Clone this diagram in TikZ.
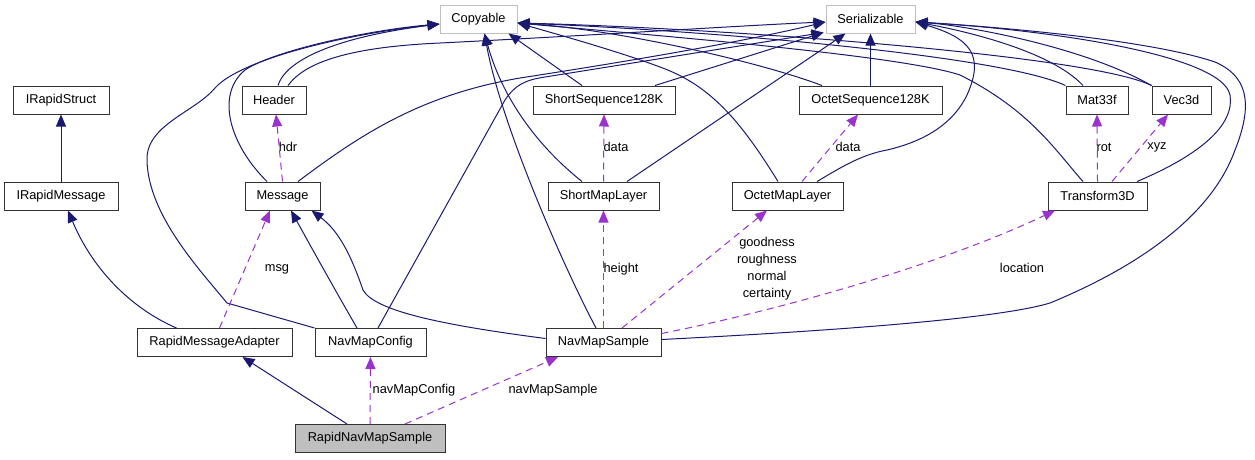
\documentclass[tikz,border=0pt]{standalone}
\usepackage{fontspec}
\setmainfont{Liberation Sans}
\usetikzlibrary{arrows.meta}
\definecolor{navy}{HTML}{191970}
\definecolor{purp}{HTML}{9A32CD}
\begin{document}
\begin{tikzpicture}[x=1pt,y=-1pt,
  box/.style={draw=black!80, line width=1pt, minimum height=28pt, inner sep=0pt,
    font=\fontsize{12.8}{15}\selectfont, fill=white},
  extbox/.style={box, draw=black!25},
  inh/.style={draw=navy, line width=1pt, -{Triangle[length=12pt,width=10pt]}},
  usedby/.style={draw=purp, line width=1pt, dash pattern=on 7pt off 5pt, -{Triangle[length=12pt,width=10pt]}},
  lbl/.style={inner sep=0pt, font=\fontsize{12.8}{17}\selectfont, align=center}]
\useasboundingbox (0,0) rectangle (1255,459);

% nodes
\node[extbox,minimum width=77pt] (copy) at (478.5,19) {Copyable};
\node[extbox,minimum width=89pt] (ser) at (870.5,19) {Serializable};
\node[box,minimum width=96pt] (irs) at (61,100) {IRapidStruct};
\node[box,minimum width=114pt] (irm) at (61,196) {IRapidMessage};
\node[box,minimum width=64pt] (hdr) at (274,100) {Header};
\node[box,minimum width=75pt] (msg) at (282.5,196) {Message};
\node[box,minimum width=142pt] (sseq) at (604,100) {ShortSequence128K};
\node[box,minimum width=111pt] (sml) at (603.5,196) {ShortMapLayer};
\node[box,minimum width=143pt] (oseq) at (870.5,100) {OctetSequence128K};
\node[box,minimum width=111pt] (oml) at (787.5,196) {OctetMapLayer};
\node[box,minimum width=62pt] (mat) at (1097,100) {Mat33f};
\node[box,minimum width=59pt] (vec) at (1181.5,100) {Vec3d};
\node[box,minimum width=99pt] (tr) at (1097.5,196) {Transform3D};
\node[box,minimum width=155pt] (rma) at (214.5,342.5) {RapidMessageAdapter};
\node[box,minimum width=111pt] (nmc) at (370.5,342.5) {NavMapConfig};
\node[box,minimum width=115pt] (nms) at (603.5,342.5) {NavMapSample};
\node[box,minimum width=150pt,fill=black!25] (rnms) at (370,438.5) {RapidNavMapSample};

% shared arrow tips
\coordinate (copyL) at ([yshift=-5pt]copy.west);
\coordinate (copyR) at ([yshift=-4pt]copy.east);
\coordinate (copyB1) at ([xshift=6pt]copy.south);
\coordinate (copyB2) at ([xshift=30pt]copy.south);
\coordinate (serL) at ([yshift=-3pt]ser.west);
\coordinate (serBL) at ([xshift=-2pt,yshift=1pt]ser.south west);
\coordinate (serB2) at ([xshift=-25pt]ser.south);
\coordinate (serR) at ([yshift=-3pt]ser.east);

% inheritance
\draw[inh] (irm.north) -- (irs.south);
\draw[inh] ([xshift=-38pt]rma.north) .. controls (130,308) and (92,268) .. ([xshift=7pt]irm.south);
\draw[inh] ([xshift=-23pt]rnms.north) -- ([xshift=28pt]rma.south);
\draw[inh] ([xshift=4pt]hdr.north) .. controls (285,62) and (330,38) .. (copyL);
\draw[inh] ([xshift=14pt]hdr.north) .. controls (305,62) and (350,47) .. (440,43) .. controls (600,35) and (750,25) .. (serL);
\draw[inh] ([xshift=-15.5pt]msg.north) .. controls (230,145) and (215,95) .. (245,70) .. controls (275,50) and (370,30) .. (copyL);
\draw[inh] ([xshift=15.5pt]msg.north) .. controls (360,135) and (420,95) .. (520,78) .. controls (650,58) and (750,40) .. (serL);
\draw[inh] (nmc.north west) -- (227,303) .. controls (200,270) and (148,215) .. (147,160) .. controls (146,125) and (195,112) .. (215,88) .. controls (240,60) and (340,35) .. (copyL);
\draw[inh] ([xshift=-13.5pt]nmc.north) .. controls (335,290) and (310,245) .. ([xshift=8.5pt]msg.south);
\draw[inh] ([xshift=7.5pt]nmc.north) -- (505,100) .. controls (515,85) and (525,80) .. (545,77) -- (serBL);
\draw[inh] ([yshift=4pt]nms.west) .. controls (450,326) and (375,312) .. (363,290) .. controls (352,258) and (340,232) .. ([xshift=29pt]msg.south);
\draw[inh] ([xshift=-7.5pt]nms.north) .. controls (560,260) and (500,120) .. (copyB1);
\draw[inh] ([xshift=-21.5pt]sml.north) .. controls (530,140) and (500,90) .. (copyB1);
\draw[inh] ([xshift=23.5pt]sml.north) -- (serB2);
\draw[inh] ([xshift=-22pt]sseq.north) -- (copyB2);
\draw[inh] ([xshift=51pt]sseq.north) -- (serBL);
\draw[inh] ([xshift=-48.5pt]oseq.north) .. controls (760,62) and (620,30) .. (copyR);
\draw[inh] (oseq.north) -- (ser.south);
\draw[inh] ([xshift=-9.5pt]oml.north) .. controls (740,120) and (710,85) .. (660,67) .. controls (620,52) and (560,35) .. (copyR);
\draw[inh] ([xshift=29.5pt]oml.north) .. controls (840,168) and (860,155) .. (887,150) .. controls (930,140) and (955,120) .. (967,95) .. controls (985,55) and (970,38) .. (serR);
\draw[inh] (mat.north west) .. controls (1000,55) and (700,30) .. (copyR);
\draw[inh] (vec.north west) .. controls (1090,55) and (720,28) .. (copyR);
\draw[inh] ([xshift=-14pt]mat.north) .. controls (1050,50) and (960,30) .. (serR);
\draw[inh] (vec.north west) .. controls (1080,45) and (960,25) .. (serR);
\draw[inh] ([xshift=-14.5pt]tr.north) .. controls (1055,150) and (1030,110) .. (960,75) .. controls (900,55) and (650,35) .. (copyR);
\draw[inh] ([xshift=39.5pt]tr.north) .. controls (1200,155) and (1235,125) .. (1230,95) .. controls (1222,55) and (1050,30) .. (serR);
\draw[inh] ([yshift=3pt]nms.east) .. controls (850,330) and (1000,318) .. (1050,303) .. controls (1130,270) and (1210,220) .. (1235,150) .. controls (1255,100) and (1245,75) .. (1215,62) .. controls (1150,40) and (1000,27) .. (serR);

% usage
\draw[usedby] (msg.north) -- ([xshift=2pt]hdr.south);
\draw[usedby] ([xshift=5pt]rma.north) -- ([xshift=-12.5pt]msg.south);
\draw[usedby] (rnms.north) -- (nmc.south);
\draw[usedby] ([xshift=35pt]rnms.north) -- ([xshift=-45.5pt]nms.south);
\draw[usedby] (sml.north) -- (sseq.south);
\draw[usedby] ([xshift=14.5pt]oml.north) -- ([xshift=-12.5pt]oseq.south);
\draw[usedby] (nms.north) -- (sml.south);
\draw[usedby] ([xshift=18.5pt]nms.north) -- ([xshift=-20.5pt]oml.south);
\draw[usedby] ([yshift=9pt]nms.east) .. controls (780,310) and (940,265) .. ([xshift=-42.5pt]tr.south);
\draw[usedby] (tr.north) -- (mat.south);
\draw[usedby] ([xshift=14.5pt]tr.north) -- ([xshift=-13.5pt]vec.south);

% labels
\node[lbl] (lhdr) at (288,147) {hdr};
\node[lbl] (lmsg) at (277,269) {msg};
\node[lbl] (lnmc) at (414,390) {navMapConfig};
\node[lbl] (lnms) at (553,390) {navMapSample};
\node[lbl] (ldata1) at (616,147) {data};
\node[lbl] (ldata2) at (848,147) {data};
\node[lbl] (lheight) at (621,269) {height};
\node[lbl] (lgood) at (767,268.5) {goodness\\roughness\\normal\\certainty};
\node[lbl] (lloc) at (1022,268) {location};
\node[lbl] (lrot) at (1104,147) {rot};
\node[lbl] (lxyz) at (1157,147) {xyz};
\end{tikzpicture}
\end{document}
